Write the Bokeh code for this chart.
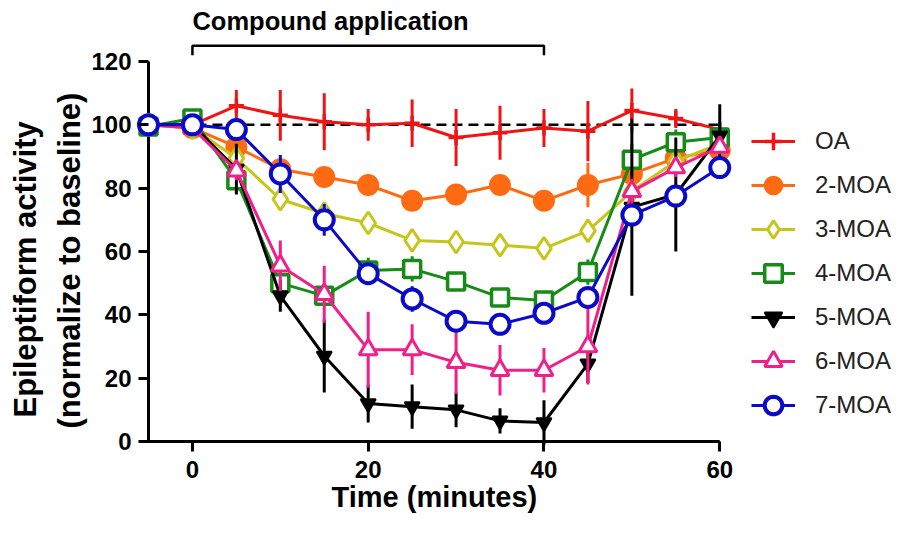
import math
import numpy as np
from bokeh.plotting import figure
from bokeh.models import Range1d, FixedTicker, Label, Legend, LegendItem, ColumnDataSource, Title
from bokeh.embed import file_html
from bokeh.resources import INLINE

# ---------------- data ----------------
time = [-5, 0, 5, 10, 15, 20, 25, 30, 35, 40, 45, 50, 55, 60]

oa = [100, 100, 106, 103, 101, 100, 100.5, 96, 97.5, 99, 98, 104.5, 102, 98.5]
oa_sem = [0, 0, 5, 8, 9, 5, 7.5, 9, 8.5, 6, 9.5, 7, 3, 1]

moa2 = [100, 99, 93, 86, 83.5, 81, 76, 78, 81, 76, 81, 84.5, 89.5, 92]
moa2_sem = [0, 0, 2, 2, 2, 3, 3, 3, 3, 3, 7, 3, 2, 2]

moa3 = [100, 99, 89.5, 76.5, 72, 69, 63.5, 63, 62, 61, 66.5, 79, 88.5, 94]
moa3_sem = [0, 0, 2, 3, 2, 2, 2, 2, 2, 2, 2, 3, 2, 2]

moa4 = [99.5, 102, 82.5, 50, 46, 54, 54.5, 50.5, 45.5, 44.5, 53.5, 89, 94.5, 96]
moa4_sem = [0, 1, 3, 4, 3, 4, 4, 3, 3, 2, 4, 5, 4, 3]

moa5 = [100, 100, 86, 46, 27, 12, 11, 10, 6.5, 6, 24.5, 74, 78, 96.5]
moa5_sem = [0, 0, 8, 5, 11.5, 6, 7, 5.5, 4, 7, 6, 28, 18, 10]

moa6 = [100, 99, 85.5, 55.5, 46.5, 29, 29, 25, 22.5, 22.5, 30, 79, 86.5, 93]
moa6_sem = [0, 0, 3, 8, 9, 12, 8, 10, 8, 7, 12, 4, 3, 2]

moa7 = [100, 100, 98.5, 84.5, 70, 53, 45, 38, 37, 40.5, 45.5, 71.5, 77.5, 86.5]
moa7_sem = [0, 1, 1, 6, 5, 3, 4, 2, 2, 3, 3, 3, 3, 2]

names = ["OA", "2-MOA", "3-MOA", "4-MOA", "5-MOA", "6-MOA", "7-MOA"]
x_ticks = [0, 20, 40, 60]
y_ticks = [0, 20, 40, 60, 80, 100, 120]
baseline = 100
application = [0, 40]
x_title = "Time (minutes)"
y_title = ["Epileptiform activity", "(normalize to baseline)"]
top_title = "Compound application"

# ---------------- styles ----------------
FONT = "Liberation Sans"
styles = [
    dict(color="#ee1515", marker="cross", size=15, fill="#ee1515", lw=3.5),
    dict(color="#ff6a13", marker="circle", size=20, fill="#ff6a13", lw=2),
    dict(color="#c6c61a", marker="diamond", size=22, fill="white", lw=3),
    dict(color="#178a17", marker="square", size=17, fill="white", lw=3.5),
    dict(color="#000000", marker="inverted_triangle", size=15, fill="#000000", lw=2),
    dict(color="#f0208a", marker="triangle", size=18, fill="white", lw=3),
    dict(color="#0a0ac8", marker="circle", size=19, fill="white", lw=4),
]
series = [oa, moa2, moa3, moa4, moa5, moa6, moa7]
sems = [oa_sem, moa2_sem, moa3_sem, moa4_sem, moa5_sem, moa6_sem, moa7_sem]

# ---------------- layout ----------------
W, H = 907, 533
BL, BR, BT, BB = 134, 2, 2, 83
fw, fh = W - BL - BR, H - BT - BB
px_x = 8.8      # px per minute
px_y = 3.1667   # px per unit
pad_x, pad_y = 13, 9   # px between frame edge and axis lines
x0 = time[0] - pad_x / px_x
x1 = x0 + fw / px_x
y0 = y_ticks[0] - pad_y / px_y
y1 = y0 + fh / px_y

p = figure(width=W, height=H, x_range=Range1d(x0, x1), y_range=Range1d(y0, y1),
           output_backend="svg", toolbar_location=None,
           min_border_left=BL, min_border_right=BR, min_border_top=BT, min_border_bottom=BB)
p.outline_line_color = None
p.grid.visible = False

for ax, ticks in ((p.xaxis[0], x_ticks), (p.yaxis[0], y_ticks)):
    ax.ticker = FixedTicker(ticks=ticks)
    ax.axis_line_color = None
    ax.major_tick_line_width = 3
    ax.major_tick_line_color = "black"
    ax.minor_tick_line_color = None
    ax.major_label_text_font = FONT
    ax.major_label_text_font_style = "bold"
    ax.major_label_text_font_size = "24px"
    ax.major_label_text_color = "black"

yax = p.yaxis[0]
yax.major_tick_out = -3
yax.major_tick_in = pad_x
yax.major_label_standoff = 4

xax = p.xaxis[0]
xax.major_tick_out = 1
xax.major_tick_in = pad_y
xax.major_label_standoff = 9

# axis titles (offsets in px from the frame's bottom / left edge)
for txt, standoff, off in ((y_title[1], 4, 22), (y_title[0], 10, 33)):
    p.add_layout(Title(text=txt, align="left", offset=off,
                       standoff=standoff, text_font=FONT, text_font_style="bold",
                       text_font_size="31px", text_color="black"), "left")

p.add_layout(Title(text=x_title, align="left", offset=196,
                   standoff=-4, text_font=FONT, text_font_style="bold",
                   text_font_size="29px", text_color="black"), "below")

# axis lines at x = -5 and y = 0
p.line([time[0], time[0], time[-1]], [y_ticks[-1], y_ticks[0], y_ticks[0]],
       line_color="black", line_width=3, line_join="miter")

# baseline dashed line
p.line([time[0], time[-1]], [baseline, baseline], line_color="black", line_width=2.5,
       line_dash="10 6")

# compound application bracket
bx = [application[0], application[0], application[1], application[1]]
by = [122, 125, 125, 122]
p.line(bx, by, line_color="black", line_width=2.5)

items = []
t = np.array(time, dtype=float)
for name, vals, sem, st in zip(names, series, sems, styles):
    v = np.array(vals, dtype=float)
    s = np.array(sem, dtype=float)
    src = ColumnDataSource(dict(x=t, y=v, lo=v - s, hi=v + s))
    p.segment(x0="x", y0="lo", x1="x", y1="hi", source=src, line_color=st["color"], line_width=3)
    ln = p.line("x", "y", source=src, line_color=st["color"], line_width=3)
    mk = p.scatter("x", "y", source=src, marker=st["marker"], size=st["size"],
                   fill_color=st["fill"], line_color=st["color"], line_width=st["lw"])
    items.append(LegendItem(label=name, renderers=[ln, mk]))

legend = Legend(items=items, location=(616, 23), margin=0, padding=0, spacing=0,
                glyph_height=44, glyph_width=44, label_height=44, label_standoff=20,
                label_text_font=FONT, label_text_font_size="24px", label_text_color="#222222",
                background_fill_alpha=0, border_line_color=None)
p.add_layout(legend)

p.add_layout(Label(x=application[0], y=132.8, text=top_title, text_align="left",
                   text_baseline="alphabetic", text_font=FONT, text_font_style="bold",
                   text_font_size="25.5px", text_color="black"))

open("out.html", "w").write(file_html(p, INLINE))
